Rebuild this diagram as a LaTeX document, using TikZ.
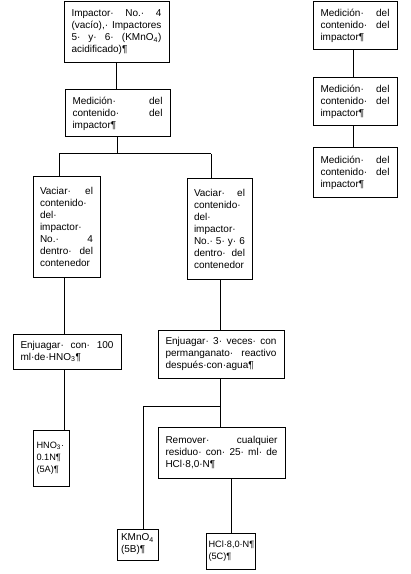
\documentclass[tikz,border=0pt]{standalone}
\usepackage{fontspec}
\setmainfont{Liberation Sans}
\newcommand\JL[1]{\noindent\hbox to\hsize{#1}\par}
\newcommand\LL[1]{\noindent\hbox to\hsize{#1\hfil}\par}
\newcommand\mkbox[8][]{%
  \pgfmathsetmacro\bxW{(#5-#3)*0.75}%
  \pgfmathsetmacro\bxH{(#6-#4)*0.75}%
  \pgfmathsetmacro\bxT{(#5-#3-#7)*0.75}%
  \pgfmathsetmacro\bxX{(#3+#5)/2}%
  \pgfmathsetmacro\bxY{(#4+#6)/2}%
  \node[box, minimum width=\bxW pt, minimum height=\bxH pt, text width=\bxT pt, #1] (#2) at (\bxX,\bxY) {#8};}
\begin{document}
\begin{tikzpicture}[x=0.75pt,y=-0.75pt,
  box/.style={draw, line width=0.75pt, inner xsep=0pt, inner ysep=0pt,
    font=\fontsize{7.5}{9}\selectfont},
  smalltext/.style={font=\fontsize{6.9}{9}\selectfont},
  conn/.style={line width=0.75pt}]
\fill[white] (0,0) rectangle (410,574);
\useasboundingbox (0,0) rectangle (410,574);
% left/middle column
\mkbox{b1}{64}{2}{169}{63}{15}{\JL{Impactor·\hfill No.·\hfill 4}\JL{(vacío),·\hfill Impactores}\JL{5·\hfill y·\hfill 6·\hfill (KMnO\textsubscript{4})}\LL{acidificado)¶}}
\mkbox{b2}{65}{90}{170}{137}{15}{\JL{Medición·\hfill del}\JL{contenido·\hfill del}\LL{impactor¶}}
\mkbox{b3}{33}{176}{100}{277}{14}{\JL{Vaciar·\hfill el}\LL{contenido·}\LL{del·}\LL{impactor·}\JL{No.·\hfill 4}\JL{dentro·\hfill del}\LL{contenedor}}
\mkbox{b4}{187}{178}{252}{279}{14}{\JL{Vaciar·\hfill el}\LL{contenido·}\LL{del·}\LL{impactor·}\JL{No.·\hfill 5·\hfill y·\hfill 6}\JL{dentro·\hfill del}\LL{contenedor}}
\mkbox{b5}{13}{334}{121}{369}{15}{\JL{Enjuagar·\hfill con·\hfill 100}\LL{ml·de·HNO\textsubscript{3}¶}}
\mkbox{b6}{158}{330}{284}{378}{15}{\JL{Enjuagar·\hfill 3·\hfill veces·\hfill con}\JL{permanganato·\hfill reactivo}\LL{después·con·agua¶}}
\mkbox[smalltext]{b7}{33}{430}{69}{486}{7}{\LL{HNO\textsubscript{3}·}\LL{0.1N¶}\LL{(5A)¶}}
\mkbox{b8}{158}{427}{285}{478}{15}{\JL{Remover·\hfill cualquier}\JL{residuo·\hfill con·\hfill 25·\hfill ml·\hfill de}\LL{HCl·8,0·N¶}}
\mkbox{b9}{117}{529}{158}{560}{8}{\LL{KMnO\textsubscript{4}}\LL{(5B)¶}}
\mkbox[smalltext]{b10}{206}{533}{255}{569}{5}{\LL{HCl·8,0·N¶}\LL{(5C)¶}}
% right column
\mkbox{r1}{313}{2}{397}{50}{15}{\JL{Medición·\hfill del}\JL{contenido·\hfill del}\LL{impactor¶}}
\mkbox{r2}{313}{78}{397}{126}{15}{\JL{Medición·\hfill del}\JL{contenido·\hfill del}\LL{impactor¶}}
\mkbox{r3}{313}{148}{397}{197}{15}{\JL{Medición·\hfill del}\JL{contenido·\hfill del}\LL{impactor¶}}
% helper coordinates
\coordinate (jL) at (59,154);
\coordinate (jR) at (211,154);
\coordinate (cL) at (64,0);
\coordinate (cR) at (220,0);
\coordinate (k) at (143,406);
\coordinate (cH) at (231,0);
\coordinate (cr) at (353,0);
% connectors
\draw[conn] (b1.south) -- (b1.south |- b2.north);
\draw[conn] (b2.south) -- (b2.south |- jL);
\draw[conn] (jL) -- (jR);
\draw[conn] (jL) -- (jL |- b3.north);
\draw[conn] (jR) -- (jR |- b4.north);
\draw[conn] (cL |- b3.south) -- (cL |- b5.north);
\draw[conn] (cL |- b5.south) -- (cL |- b7.north);
\draw[conn] (cR |- b4.south) -- (cR |- b6.north);
\draw[conn] (cR |- b6.south) -- (cR |- b8.north);
\draw[conn] (cR |- k) -- (k) -- (k |- b9.north);
\draw[conn] (cH |- b8.south) -- (cH |- b10.north);
\draw[conn] (cr |- r1.south) -- (cr |- r2.north);
\draw[conn] (cr |- r2.south) -- (cr |- r3.north);
\end{tikzpicture}
\end{document}
